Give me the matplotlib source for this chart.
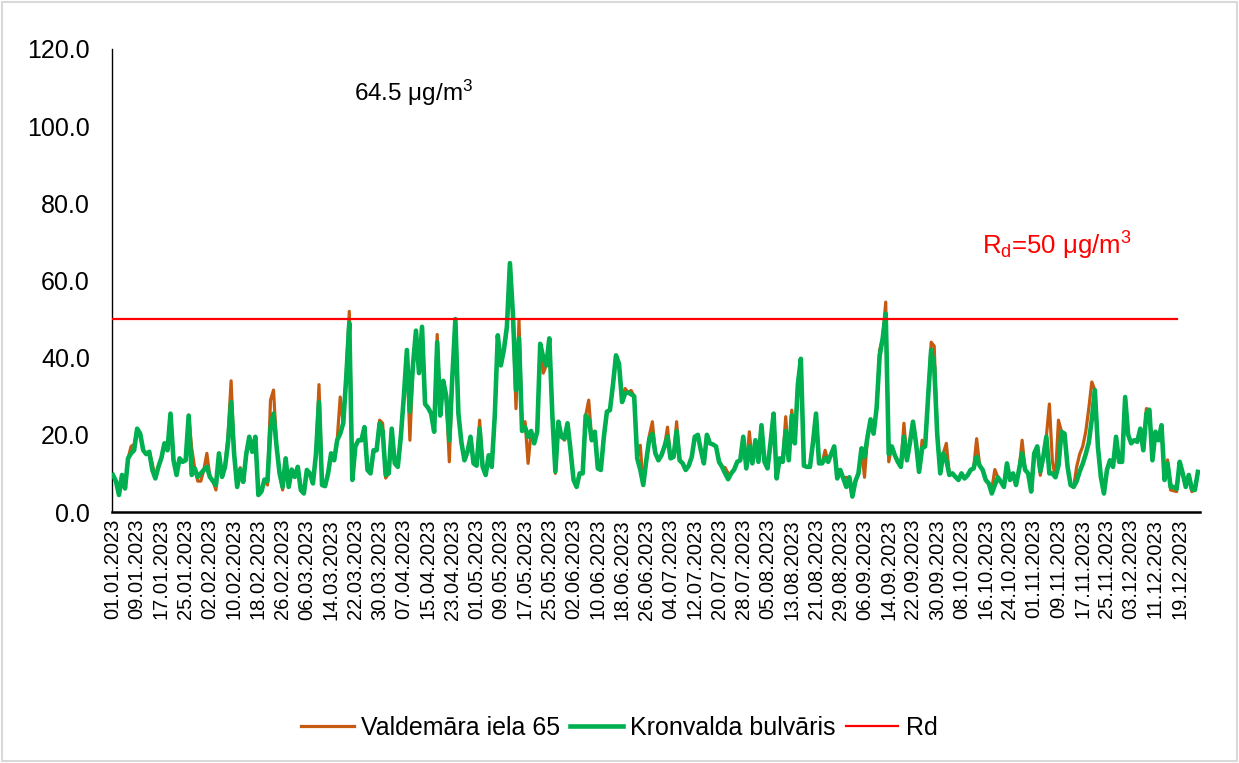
import numpy as np
import pandas as pd
import matplotlib
matplotlib.use('Agg')
import matplotlib.pyplot as plt
from matplotlib.patches import Rectangle

plt.rcParams['font.family'] = ['Liberation Sans', 'DejaVu Sans']
plt.rcParams['mathtext.default'] = 'regular'

# === Dati (diennakts vidējās vērtības, µg/m3) ===
start_date = '2023-01-01'
limit_rd = 50
max_value = 64.5

kronvalda = [
    9.6, 8, 4.4, 9.6, 6.1, 13.9, 15.2, 16, 21.6, 20.3,
    16, 15, 15.6, 10.9, 8.7, 11.7, 14, 17.8, 16, 25.5,
    13.4, 9.6, 13.9, 13, 13.4, 25, 9.6, 11.3, 9.1, 10,
    10.9, 11.7, 9.1, 8, 7, 15.2, 9.1, 11.7, 18, 28.5,
    15, 6.5, 11, 7.8, 15, 19.5, 15.6, 19.5, 4.4, 5.3,
    8.4, 8, 22, 25.5, 17, 10, 6.5, 13.9, 6.5, 11,
    9.1, 11.7, 5.7, 4.8, 10.9, 10, 7.4, 15, 28.5, 7,
    6.7, 10, 15.2, 13.4, 18.6, 20.3, 23, 35, 49, 8.3,
    17, 18.6, 18.6, 22, 10.9, 10, 16, 16, 23, 21,
    9.6, 10, 21.6, 12.6, 11.7, 19.5, 30, 42, 26, 38,
    47, 36, 48, 28, 27, 25.5, 20.8, 44, 25, 34,
    30, 18.6, 35, 50, 25.5, 18, 13.4, 15.6, 19.5, 12.6,
    12, 21.6, 11.7, 9.6, 14.7, 11.7, 25, 45.8, 38, 42,
    48, 64.5, 51, 31.6, 45, 21, 22, 19.5, 21, 17.8,
    20.8, 43.6, 40, 38, 45, 25, 10.5, 23.4, 19.5, 19,
    23, 16, 8.3, 6.5, 10, 10, 25, 24, 18.6, 20.8,
    11.3, 10.9, 19.5, 26, 26.4, 33, 40.6, 38.4, 28.5, 30.7,
    31, 30.5, 30, 13.9, 11, 7, 13.4, 19, 20.3, 15.2,
    13.4, 14.7, 17, 19.5, 13.9, 14.3, 21, 13.4, 12.6, 10.9,
    12, 14.3, 19.5, 20, 16, 12.6, 20, 17.8, 17.5, 17,
    13, 11.7, 10, 8.5, 10, 11, 13, 13.4, 19.5, 11.3,
    17, 12.6, 18.6, 13, 22.5, 13, 11.3, 18, 25.5, 8.7,
    13.9, 13, 21, 13.4, 25, 17.8, 33, 39.7, 12, 11.7,
    11.7, 18, 25.5, 12.6, 12.6, 14, 13, 15, 17, 8.7,
    10.9, 8.7, 6.5, 9, 4, 8, 10, 16.5, 14.3, 19.5,
    24, 20.3, 27, 40.5, 45, 51.4, 15, 17, 14.7, 13,
    11.7, 19.5, 13.4, 18, 23.4, 17.8, 10.4, 16.5, 17, 30,
    42, 37.6, 20, 10, 15.2, 13.4, 9.6, 10, 9.1, 8.3,
    10, 8.7, 9.5, 10.9, 11.3, 14.3, 12, 10.9, 8.3, 7.4,
    4.8, 7, 9, 7.8, 6.5, 12.6, 8.3, 10, 7, 11,
    15.2, 10.9, 10, 5.3, 15.2, 17, 10.5, 14.3, 19.5, 10,
    10, 9, 12, 20.8, 20.3, 11.7, 7, 6.5, 8, 10.5,
    12.5, 15, 18, 24, 31.6, 17, 9, 4.8, 10.9, 13.4,
    11.7, 19.5, 13, 13, 29.8, 20, 17.8, 18.6, 18.2, 21.6,
    16, 25.5, 26.5, 13.4, 20.8, 18.6, 22.5, 8.3, 12.6, 6.5,
    6.5, 6, 13, 10, 6.5, 9.6, 6, 5.7, 10.4,
]

valdemara = [
    9.6, 8, 4.4, 9.6, 6.1, 13.9, 17, 17.5, 21.6, 20.3,
    16, 15, 15.6, 12.5, 8.7, 11.7, 14, 17.8, 16, 25.5,
    13.4, 9.6, 13.9, 13, 13.4, 25, 16.5, 11.3, 8, 8,
    10.9, 15.2, 9.1, 8, 5.7, 15.2, 9.1, 11.7, 20, 34,
    15, 6.5, 11.5, 7.8, 15, 19.5, 15.6, 19.5, 4.4, 5.3,
    8.4, 7, 29, 31.6, 17, 10, 5.7, 13.9, 6.5, 11,
    9.1, 11.7, 5.7, 4.8, 10.9, 10, 7.4, 15, 33, 7,
    6.7, 10, 15.2, 13.4, 18.6, 29.8, 23, 36, 52, 8.3,
    17, 18.6, 18.6, 22, 10.9, 10, 16, 16, 23.8, 23,
    8.8, 10, 21.6, 12.6, 11.7, 19.5, 30, 40, 18.6, 38,
    47, 36, 48, 28, 27, 25.5, 20.8, 46, 25, 34,
    30, 13, 35, 50, 25.5, 18, 13.4, 15.6, 19.5, 12.6,
    12, 23.8, 11.7, 9.6, 14.7, 11.7, 25, 45.8, 38, 42,
    48, 64.5, 51, 26.8, 49.7, 21, 23.4, 12.6, 21, 17.8,
    20.8, 43.6, 36, 38, 45, 25, 10, 23.4, 19.5, 18.6,
    23, 16, 8.3, 6.5, 10, 10, 25, 29, 18.6, 20.8,
    11.3, 10.9, 19.5, 26, 26.4, 33, 40.6, 38.4, 28.5, 32,
    31, 31.5, 30, 13.9, 17.3, 7, 13.4, 19.8, 23.4, 15.2,
    13.4, 14.7, 17, 22, 13.9, 14.3, 23.4, 13.4, 12.6, 10.9,
    12, 14.3, 19.5, 20, 16, 12.6, 20, 17.8, 17.5, 17,
    13, 11.7, 11.5, 10, 10, 11, 13, 13.4, 19.5, 11.3,
    20.8, 12.6, 18.6, 13, 22.5, 13, 11.3, 18, 25.5, 8.7,
    13.9, 13, 24.7, 13.4, 26.4, 17.8, 33, 39.7, 12, 11.7,
    11.7, 18, 25.5, 12.6, 12.6, 16, 13, 15, 17, 8.7,
    10.9, 8.7, 9, 8.7, 4.5, 8, 10, 16.5, 9, 19.5,
    24, 20.3, 27, 42, 45, 54.4, 13, 17, 14.7, 13,
    11.7, 23, 13.4, 18, 23.4, 17.8, 10.4, 18.6, 17, 30,
    44, 43, 20, 10, 15.2, 17.8, 9.6, 10, 9.1, 8.3,
    10, 8.7, 9.5, 10.9, 11.3, 19, 12, 10.9, 8.3, 7.4,
    6, 11, 9, 7.8, 6.5, 12.6, 8.3, 10, 7, 11,
    18.6, 10.9, 10, 5.3, 15.2, 17, 9.5, 14.3, 19.5, 28,
    13, 9, 23.8, 20.8, 20.3, 11.7, 7, 6.5, 11.7, 15,
    17, 20.8, 26.8, 33.7, 31.6, 17, 9, 4.8, 10.9, 13.4,
    11.7, 19.5, 13, 13, 29.8, 20, 17.8, 18.6, 18.2, 21.6,
    16, 26.8, 26.5, 13.4, 20.8, 18.6, 22.5, 8.3, 13.5, 5.7,
    5.5, 5.3, 13, 10, 6.5, 9.6, 5.3, 5.7, 10.4,
]

dates = pd.date_range(start_date, periods=len(kronvalda), freq='D')
x = np.arange(len(dates))
tick_idx = x[::8]
tick_labels = [d.strftime('%d.%m.%Y') for d in dates[::8]]

# === Zīmējums ===
fig = plt.figure(figsize=(12.39, 7.63), dpi=100)
ax = fig.add_axes([112 / 1239, 1 - 512 / 763, 1088 / 1239, 463 / 763])

ax.plot(x, valdemara, color='#C55A11', lw=2.3, label='Valdemāra iela 65', zorder=3)
ax.plot(x, kronvalda, color='#00B050', lw=3.3, label='Kronvalda bulvāris', zorder=4)
ax.plot([x[0], x[-8]], [limit_rd, limit_rd], color='#FF0000', lw=1.6, label='Rd', zorder=5)

ax.set_xlim(-0.3, len(x) - 0.3)
ax.set_ylim(0, 120)
ax.set_yticks(np.arange(0, 121, 20))
ax.set_yticklabels([f'{v:.1f}' for v in np.arange(0, 121, 20)], fontsize=18)
ax.set_xticks(tick_idx)
ax.set_xticklabels(tick_labels, rotation=90, fontsize=14.5)
ax.tick_params(axis='both', length=0)
ax.tick_params(axis='y', pad=16)
ax.tick_params(axis='x', pad=5)

for s in ['top', 'right']:
    ax.spines[s].set_visible(False)
ax.spines['left'].set_linewidth(1.0)
ax.spines['bottom'].set_linewidth(1.8)

ax.text(0.222, 0.905, f'{max_value} μg/m$^{{3}}$', transform=ax.transAxes,
        fontsize=17.5, ha='left', va='center')
ax.text(0.8, 0.575, f'R$_{{d}}$=50 μg/m$^{{3}}$', transform=ax.transAxes,
        fontsize=18.5, color='#FF0000', ha='left', va='center')

fig.legend(loc='center', bbox_to_anchor=(0.5, 1 - 728 / 763), ncol=3,
           frameon=False, fontsize=18, handlelength=2.1, handletextpad=0.3,
           columnspacing=0.4)

# rāmis ap visu attēlu
fig.patches.append(Rectangle((0.002, 0.003), 0.996, 0.994, transform=fig.transFigure,
                             fill=False, edgecolor='#D9D9D9', lw=1.5))

fig.savefig('out.png', dpi=100)
